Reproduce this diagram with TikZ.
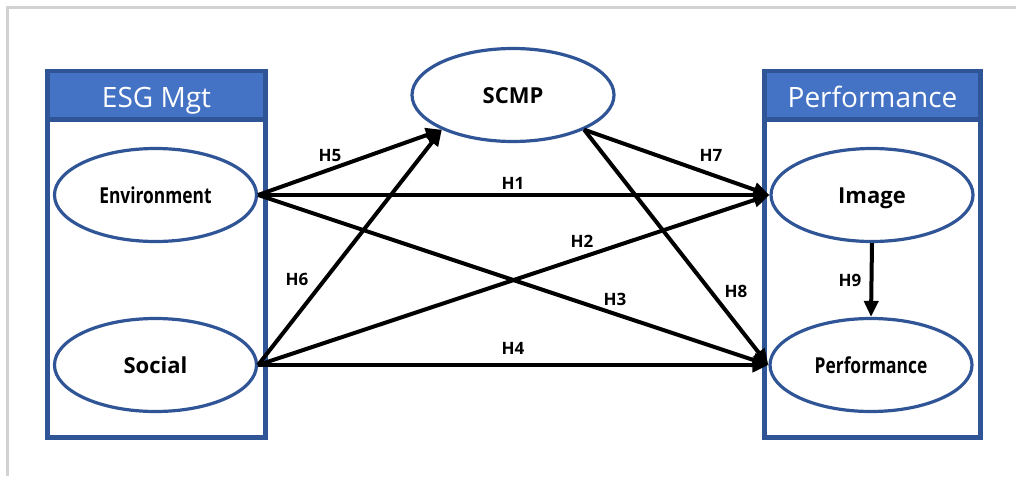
\documentclass[tikz,border=0pt]{standalone}
\usepackage{fontspec}
\setmainfont{Open Sans}
\usetikzlibrary{shapes.geometric,arrows.meta}
\definecolor{esgblue}{HTML}{4472C4}
\definecolor{esgdark}{HTML}{2F5597}
\definecolor{framegray}{HTML}{D2D2D2}
\tikzset{
  construct/.style={ellipse, draw=esgdark, line width=3.2pt, minimum width=202pt, minimum height=93pt,
    inner sep=0pt, text height=16pt, text depth=0pt, font=\bfseries\fontsize{22}{26}\selectfont},
  groupbox/.style={draw=esgdark, line width=4.5pt, minimum height=366.5pt, inner sep=0pt},
  header/.style={draw=esgdark, fill=esgblue, line width=4.5pt, minimum height=48.5pt, inner sep=0pt,
    text=white, text height=20pt, text depth=0pt, font=\fontsize{28}{32}\selectfont},
  hyp/.style={inner sep=0pt, text height=12pt, text depth=0pt, font=\bfseries\fontsize{17}{20}\selectfont},
  link/.style={line width=4pt, -{Triangle[length=16pt,width=14pt]}}
}
\begin{document}
\begin{tikzpicture}[x=1pt,y=-1pt]
  \useasboundingbox (0,0) rectangle (1016,476);
  \draw[framegray, line width=3pt] (7,476) -- (7,8) -- (1016,8);
  % the two groups
  \node[groupbox, minimum width=218pt] (esgbox) at (156.5,254.25) {};
  \node[header, minimum width=218pt] (esghead) at (156.5,95.25) {\raisebox{-2pt}{ESG Mgt}};
  \node[groupbox, minimum width=216pt] (perfbox) at (872.5,254.25) {};
  \node[header, minimum width=216pt] (perfhead) at (872.5,95.25) {\raisebox{-2pt}{Performance}};
  % constructs
  \node[construct] (env) at (155.5,195) {\scalebox{0.79}[1]{Environment}};
  \node[construct] (soc) at (155.5,365) {Social};
  \node[construct] (scmp) at (513,95) {SCMP};
  \node[construct] (img) at (872,195) {Image};
  \node[construct] (perf) at (871,365) {\scalebox{0.79}[1]{Performance}};
  % hypotheses
  \draw[link] (env.east) -- (img.west);
  \draw[link] (soc.east) -- (img.west);
  \draw[link] (env.east) -- (perf.west);
  \draw[link] (soc.east) -- (perf.west);
  \draw[link] (env.east) -- (scmp.206);
  \draw[link] (soc.east) -- (scmp.206);
  \draw[link] (scmp.334) -- (img.west);
  \draw[link] (scmp.334) -- (perf.west);
  \draw[link] (img.south) -- (perf.north);
  \node[hyp] (h1) at (513,183) {H1};
  \node[hyp] (h2) at (582,241) {H2};
  \node[hyp] (h3) at (615,299) {H3};
  \node[hyp] (h4) at (513,348) {H4};
  \node[hyp] (h5) at (330,155) {H5};
  \node[hyp] (h6) at (297,279) {H6};
  \node[hyp] (h7) at (711,155) {H7};
  \node[hyp] (h8) at (736,291) {H8};
  \node[hyp] (h9) at (850,280) {H9};
\end{tikzpicture}
\end{document}
